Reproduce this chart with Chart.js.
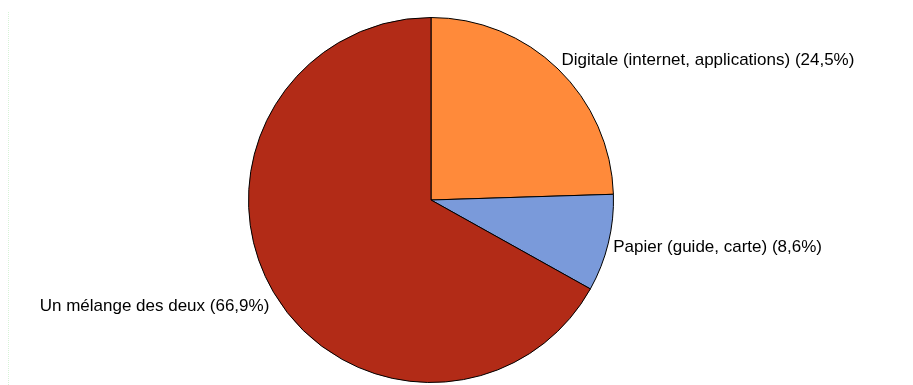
<!DOCTYPE html>
<html>
<head>
<meta charset="utf-8">
<script src="https://cdn.jsdelivr.net/npm/chart.js@4.4.0/dist/chart.umd.min.js"></script>
<style>
  body { margin: 0; background: #fff; }
  #wrap { position: relative; width: 913px; height: 385px; }
  #edge { position: absolute; left: 8px; top: 12px; bottom: 0; border-left: 1px dotted #d6f3d6; }
</style>
</head>
<body>
<div id="wrap">
  <div id="edge"></div>
  <canvas id="pieChart" width="913" height="385"></canvas>
</div>
<script>
// share of answers, in percent
var categories = ["Digitale (internet, applications)", "Papier (guide, carte)", "Un mélange des deux"];
var values = [24.5, 8.6, 66.9];
var sliceColors = ["#ff8a3a", "#7a9ada", "#b22b17"];

// labels drawn outside each slice, like "Name (12,3%)"
var outsideLabels = {
  id: 'outsideLabels',
  afterDatasetsDraw: function(chart) {
    var ctx = chart.ctx;
    var meta = chart.getDatasetMeta(0);
    ctx.save();
    ctx.font = '17px "Liberation Sans", Arial, sans-serif';
    ctx.fillStyle = '#000';
    meta.data.forEach(function(arc, i) {
      var mid = (arc.startAngle + arc.endAngle) / 2;
      var r = arc.outerRadius + 5;
      var x = arc.x + Math.cos(mid) * r;
      var y = arc.y + Math.sin(mid) * r + 3;
      ctx.textAlign = Math.cos(mid) >= 0 ? 'left' : 'right';
      var s = Math.sin(mid);
      ctx.textBaseline = s < -0.3 ? 'bottom' : (s > 0.3 ? 'top' : 'middle');
      var txt = categories[i] + ' (' + values[i].toFixed(1).replace('.', ',') + '%)';
      ctx.fillText(txt, x, y);
    });
    ctx.restore();
  }
};

var ctx = document.getElementById("pieChart").getContext('2d');
var myPieChart = new Chart(ctx, {
  type: 'pie',
  data: {
    labels: categories,
    datasets: [{
      data: values,
      backgroundColor: sliceColors,
      borderColor: '#000',
      borderWidth: 1
    }]
  },
  options: {
    responsive: false,
    animation: false,
    layout: {
      padding: { top: 17, bottom: 2, left: 0, right: 51 }
    },
    plugins: {
      legend: { display: false },
      tooltip: { enabled: false },
      title: { display: false }
    }
  },
  plugins: [outsideLabels]
});
</script>
</body>
</html>
